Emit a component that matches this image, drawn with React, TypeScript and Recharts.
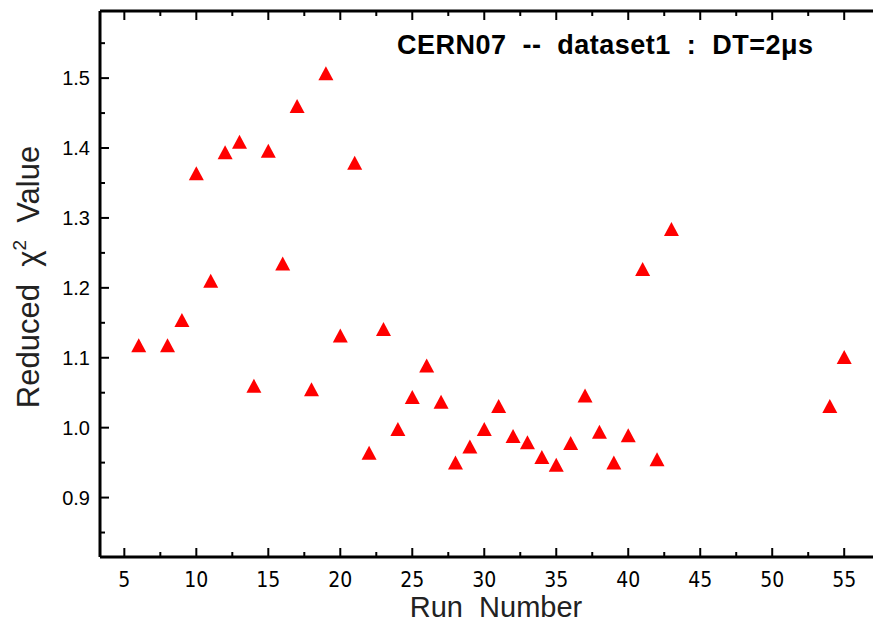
import { ScatterChart, Scatter, XAxis, YAxis } from 'recharts';

// run numbers and reduced chi^2 values
const runs = [6, 8, 9, 10, 11, 12, 13, 14, 15, 16, 17, 18, 19, 20, 21, 22, 23, 24, 25, 26, 27, 28, 29, 30, 31, 32, 33, 34, 35, 36, 37, 38, 39, 40, 41, 42, 43, 54, 55];
const chi2 = [1.118, 1.118, 1.154, 1.364, 1.21, 1.394, 1.409, 1.06, 1.396, 1.235, 1.46, 1.055, 1.507, 1.132, 1.379, 0.964, 1.141, 0.998, 1.044, 1.089, 1.037, 0.95, 0.973, 0.998, 1.031, 0.988, 0.979, 0.958, 0.947, 0.978, 1.046, 0.994, 0.95, 0.989, 1.227, 0.955, 1.284, 1.031, 1.101];

const xMajorTicks = [5, 10, 15, 20, 25, 30, 35, 40, 45, 50, 55];
const xMinorTicks = [7.5, 12.5, 17.5, 22.5, 27.5, 32.5, 37.5, 42.5, 47.5, 52.5];
const yMajorTicks = [0.9, 1.0, 1.1, 1.2, 1.3, 1.4, 1.5];
const yMinorTicks = [0.85, 0.95, 1.05, 1.15, 1.25, 1.35, 1.45, 1.55];

const title = 'CERN07  --  dataset1  :  DT=2μs';
const xTitle = 'Run  Number';

const data = runs.map((run, i) => ({ run, chi2: chi2[i] }));
const xTicks = [...xMajorTicks, ...xMinorTicks].sort((a, b) => a - b);
const yTicks = [...yMajorTicks, ...yMinorTicks].sort((a, b) => a - b);

const narrow = "'Liberation Sans Narrow', 'DejaVu Sans Condensed', 'Liberation Sans', sans-serif";
const sans = "'Liberation Sans', Arial, sans-serif";
const pre = { whiteSpace: 'pre' as const };

const BottomTick = (props: any) => {
  const { x, y, payload } = props;
  const major = xMajorTicks.includes(payload.value);
  return (
    <g>
      <line x1={x} y1={y} x2={x} y2={y - (major ? 9 : 5)} stroke="#000" strokeWidth={2} />
      {major && (
        <text x={x} y={y + 30} textAnchor="middle" fontSize={21} fontFamily={narrow} fill="#000">
          {payload.value}
        </text>
      )}
    </g>
  );
};

const TopTick = (props: any) => {
  const { x, y, payload } = props;
  const major = xMajorTicks.includes(payload.value);
  return <line x1={x} y1={y} x2={x} y2={y + (major ? 9 : 5)} stroke="#000" strokeWidth={2} />;
};

const LeftTick = (props: any) => {
  const { x, y, payload } = props;
  const major = yMajorTicks.includes(payload.value);
  return (
    <g>
      <line x1={x} y1={y} x2={x + (major ? 9 : 5)} y2={y} stroke="#000" strokeWidth={2} />
      {major && (
        <text x={x - 10} y={y + 7} textAnchor="end" fontSize={20} fontFamily={sans} fill="#000">
          {payload.value.toFixed(1)}
        </text>
      )}
    </g>
  );
};

const Triangle = (props: any) => {
  const { cx, cy } = props;
  return (
    <polygon
      points={`${cx},${cy - 7} ${cx - 7.5},${cy + 7} ${cx + 7.5},${cy + 7}`}
      fill="#ff0000"
    />
  );
};

export default function App() {
  return (
    <div style={{ position: 'absolute', left: 0, top: 0, width: 873, height: 622, background: '#fff' }}>
      <ScatterChart width={873} height={622} margin={{ top: 10, right: 0, bottom: 0, left: 0 }}>
        <XAxis
          xAxisId="bottom"
          dataKey="run"
          type="number"
          domain={[3.31, 57]}
          allowDataOverflow
          ticks={xTicks}
          interval={0}
          height={65}
          tickSize={0}
          tickMargin={0}
          tick={<BottomTick />}
          axisLine={{ stroke: '#000', strokeWidth: 3 }}
        />
        <XAxis
          xAxisId="top"
          orientation="top"
          dataKey="run"
          type="number"
          domain={[3.31, 57]}
          allowDataOverflow
          ticks={xTicks}
          interval={0}
          height={1}
          tickSize={0}
          tickMargin={0}
          tick={<TopTick />}
          axisLine={{ stroke: '#000', strokeWidth: 3 }}
        />
        <YAxis
          dataKey="chi2"
          type="number"
          domain={[0.815, 1.596]}
          allowDataOverflow
          ticks={yTicks}
          interval={0}
          width={100}
          tickSize={0}
          tickMargin={0}
          tick={<LeftTick />}
          axisLine={{ stroke: '#000', strokeWidth: 3 }}
        />
        <Scatter data={data} xAxisId="bottom" shape={<Triangle />} isAnimationActive={false} />
        <text x={397} y={54} fontSize={27} fontWeight="bold" fontFamily={sans} fill="#000" textLength={416} lengthAdjust="spacing" style={pre}>
          {title}
        </text>
        <text x={496} y={617} textAnchor="middle" fontSize={29} fontFamily={sans} fill="#222" style={pre}>
          {xTitle}
        </text>
        <text x={39} y={277} textAnchor="middle" fontSize={31} fontFamily={sans} fill="#222" transform="rotate(-90 39 277)" style={pre}>
          {'Reduced  χ'}<tspan dy={-13} fontSize={19}>2</tspan><tspan dy={13}>{'  Value'}</tspan>
        </text>
      </ScatterChart>
    </div>
  );
}
